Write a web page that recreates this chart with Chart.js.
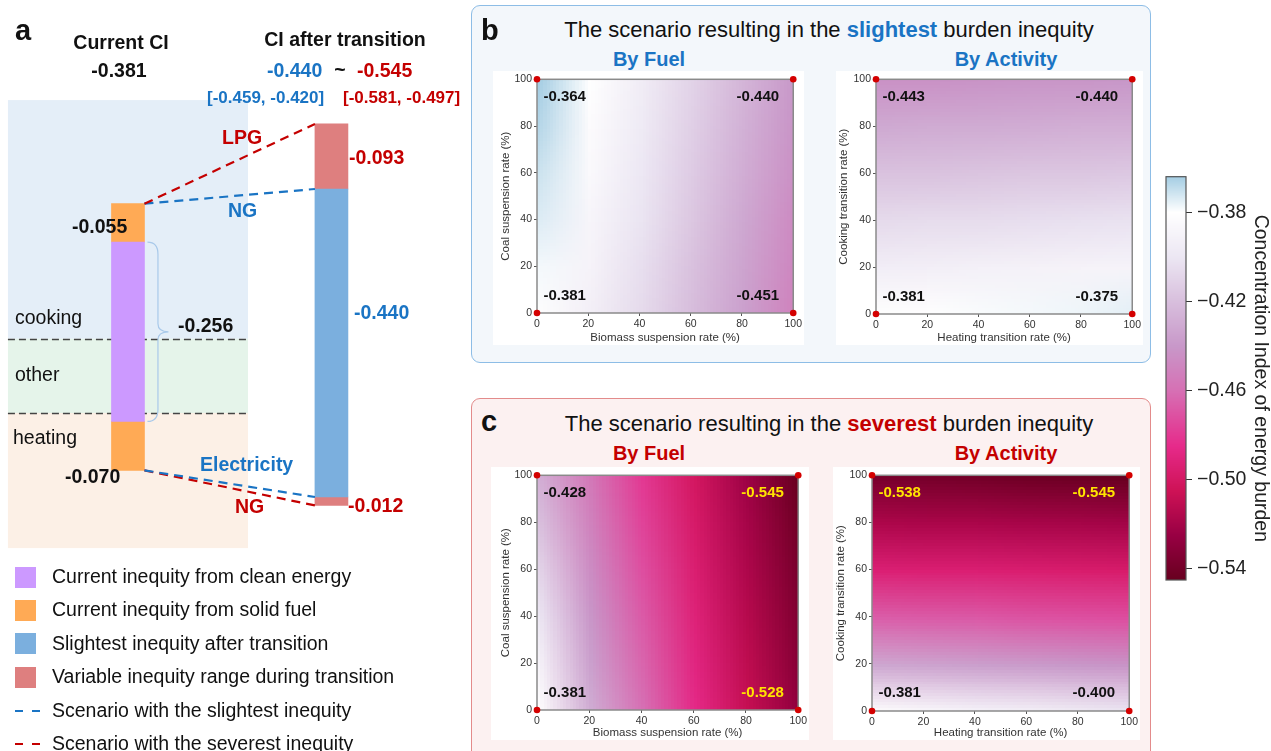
<!DOCTYPE html>
<html>
<head>
<meta charset="utf-8">
<script src="https://cdn.jsdelivr.net/npm/chart.js@4.4.0/dist/chart.umd.min.js"></script>
<style>
body{margin:0;width:1271px;height:751px;overflow:hidden;background:#fff;position:relative;font-family:"Liberation Sans",Arial,sans-serif;color:#111}
canvas{position:absolute}
.t{position:absolute;white-space:nowrap;transform:translateY(-50%);line-height:1}
.c{transform:translate(-50%,-50%)}
.box{position:absolute;border-radius:9px;box-sizing:border-box}
.sw{position:absolute;width:21px;height:21px}
.dash{position:absolute;height:2px;width:8px}
</style>
</head>
<body>
<div class="box" style="left:471px;top:5px;width:680px;height:358px;border:1.5px solid #8DBDE6;background:#F3F7FB"></div>
<div class="box" style="left:471px;top:398px;width:680px;height:370px;border:1.5px solid #E38B8B;background:#FCF1F1"></div>

<canvas id="panelA" width="470" height="560" style="left:0;top:0"></canvas>
<canvas id="hbFuel" width="311" height="274" style="left:493px;top:71px;background:#fff"></canvas>
<canvas id="hbAct" width="307" height="274" style="left:836px;top:71px;background:#fff"></canvas>
<canvas id="hcFuel" width="318" height="273" style="left:491px;top:467px;background:#fff"></canvas>
<canvas id="hcAct" width="307" height="273" style="left:833px;top:467px;background:#fff"></canvas>
<canvas id="cbar" width="116" height="440" style="left:1160px;top:160px"></canvas>

<div id="labels"></div>

<script>
// ---- data ----
// current CI split: solid fuel (cooking side), clean energy, solid fuel (heating side)
const currentParts = [-0.055, -0.256, -0.070];
// CI after transition: extra range on top (LPG), slightest (blue), extra at bottom (NG)
const afterParts = [-0.093, -0.440, -0.012];
const slightRange = [-0.459, -0.420];
const severeRange = [-0.581, -0.497];

// heatmap grids, rows from y=0 up to y=100, columns x=0..100
const gridTicks = [0, 20, 40, 60, 80, 100];
const fuelSlight = [
  [-0.381, -0.393, -0.406, -0.421, -0.436, -0.451],
  [-0.378, -0.390, -0.404, -0.419, -0.434, -0.449],
  [-0.374, -0.388, -0.401, -0.416, -0.432, -0.447],
  [-0.371, -0.385, -0.399, -0.414, -0.429, -0.444],
  [-0.367, -0.383, -0.397, -0.412, -0.427, -0.442],
  [-0.364, -0.380, -0.395, -0.410, -0.425, -0.440]
];
const actSlight = [
  [-0.381, -0.380, -0.379, -0.378, -0.377, -0.375],
  [-0.394, -0.393, -0.392, -0.391, -0.390, -0.389],
  [-0.406, -0.405, -0.405, -0.404, -0.403, -0.402],
  [-0.418, -0.418, -0.417, -0.416, -0.416, -0.415],
  [-0.431, -0.430, -0.430, -0.429, -0.428, -0.428],
  [-0.443, -0.443, -0.442, -0.441, -0.441, -0.440]
];
const fuelSevere = [
  [-0.381, -0.430, -0.460, -0.486, -0.508, -0.528],
  [-0.390, -0.436, -0.464, -0.489, -0.511, -0.532],
  [-0.400, -0.441, -0.468, -0.492, -0.514, -0.535],
  [-0.409, -0.446, -0.472, -0.495, -0.517, -0.538],
  [-0.419, -0.451, -0.476, -0.498, -0.520, -0.541],
  [-0.428, -0.456, -0.480, -0.501, -0.523, -0.545]
];
const actSevere = [
  [-0.381, -0.385, -0.389, -0.392, -0.396, -0.400],
  [-0.432, -0.434, -0.436, -0.438, -0.440, -0.442],
  [-0.466, -0.467, -0.468, -0.470, -0.471, -0.472],
  [-0.493, -0.494, -0.494, -0.495, -0.496, -0.497],
  [-0.517, -0.518, -0.518, -0.519, -0.520, -0.521],
  [-0.538, -0.539, -0.540, -0.542, -0.543, -0.545]
];
const cbarTicks = [-0.54, -0.50, -0.46, -0.42, -0.38];

// ---- styles ----
const FONT = '"Liberation Sans", Arial, sans-serif';
const BLUE = '#1A74C4', RED = '#C40000';
const cmapStops = [
  [-0.364, [164, 205, 227]],
  [-0.380, [255, 255, 255]],
  [-0.400, [236, 231, 243]],
  [-0.420, [216, 191, 221]],
  [-0.440, [200, 152, 201]],
  [-0.460, [214, 112, 180]],
  [-0.485, [230, 42, 138]],
  [-0.505, [206, 18, 86]],
  [-0.525, [152, 0, 67]],
  [-0.545, [103, 0, 31]]
];
function cmap(v) {
  if (v >= cmapStops[0][0]) return cmapStops[0][1];
  for (let i = 1; i < cmapStops.length; i++) {
    const [v1, c1] = cmapStops[i];
    if (v >= v1) {
      const [v0, c0] = cmapStops[i - 1];
      const f = (v - v0) / (v1 - v0);
      return c0.map((c, k) => Math.round(c + (c1[k] - c) * f));
    }
  }
  return cmapStops[cmapStops.length - 1][1];
}
const fmt = v => v.toFixed(3);

// ---- text labels ----
const labels = document.getElementById('labels');
function txt(s, x, y, css, center) {
  const d = document.createElement('div');
  d.className = 't' + (center ? ' c' : '');
  d.style.left = x + 'px';
  d.style.top = y + 'px';
  d.style.cssText += css;
  d.innerHTML = s;
  labels.appendChild(d);
}
const curTotal = currentParts.reduce((a, b) => a + b, 0);
const aftTotal = afterParts.reduce((a, b) => a + b, 0);
const B19 = 'font-size:19.5px;font-weight:bold;';
txt('a', 15, 30, 'font-size:29px;font-weight:bold;');
txt('Current CI', 121, 43, B19, true);
txt(fmt(curTotal), 119, 71, B19, true);
txt('CI after transition', 345, 40, B19, true);
txt(fmt(afterParts[1]), 267, 71, B19 + 'color:' + BLUE);
txt('~', 340, 70, B19, true);
txt(fmt(aftTotal), 357, 71, B19 + 'color:' + RED);
txt('[' + fmt(slightRange[0]) + ', ' + fmt(slightRange[1]) + ']', 207, 97, 'font-size:17px;font-weight:bold;color:' + BLUE);
txt('[' + fmt(severeRange[0]) + ', ' + fmt(severeRange[1]) + ']', 343, 97, 'font-size:17px;font-weight:bold;color:' + RED);
txt('LPG', 222, 138, B19 + 'color:' + RED);
txt(fmt(afterParts[0]), 349, 158, B19 + 'color:' + RED);
txt('NG', 228, 211, B19 + 'color:' + BLUE);
txt(fmt(currentParts[0]), 72, 227, B19);
txt('cooking', 15, 318, 'font-size:19.5px;');
txt(fmt(currentParts[1]), 178, 326, B19);
txt('other', 15, 375, 'font-size:19.5px;');
txt('heating', 13, 438, 'font-size:19.5px;');
txt(fmt(afterParts[1]), 354, 313, B19 + 'color:' + BLUE);
txt('Electricity', 200, 465, B19 + 'color:' + BLUE);
txt(fmt(currentParts[2]), 65, 477, B19);
txt('NG', 235, 507, B19 + 'color:' + RED);
txt(fmt(afterParts[2]), 348, 506, B19 + 'color:' + RED);

// legend of panel a
const legendRows = [
  ['box', '#CC99FF', 'Current inequity from clean energy'],
  ['box', '#FFAA55', 'Current inequity from solid fuel'],
  ['box', '#7BAFDE', 'Slightest inequity after transition'],
  ['box', '#DE7F7F', 'Variable inequity range during transition'],
  ['dash', BLUE, 'Scenario with the slightest inequity'],
  ['dash', RED, 'Scenario with the severest inequity']
];
legendRows.forEach((r, i) => {
  const y = 577 + i * 33.4;
  if (r[0] === 'box') {
    const s = document.createElement('div');
    s.className = 'sw';
    s.style.cssText = 'left:15px;top:' + (y - 10.5) + 'px;background:' + r[1];
    labels.appendChild(s);
  } else {
    [15, 32].forEach(x => {
      const s = document.createElement('div');
      s.className = 'dash';
      s.style.cssText = 'left:' + x + 'px;top:' + (y - 1) + 'px;background:' + r[1];
      labels.appendChild(s);
    });
  }
  txt(r[2], 52, y, 'font-size:19.5px;');
});

// panel titles
txt('b', 481, 30, 'font-size:29px;font-weight:bold;');
txt('The scenario resulting in the <b style="color:' + BLUE + '">slightest</b> burden inequity', 829, 30, 'font-size:22px;', true);
txt('By Fuel', 649, 59, 'font-size:20px;font-weight:bold;color:' + BLUE, true);
txt('By Activity', 1006, 59, 'font-size:20px;font-weight:bold;color:' + BLUE, true);
txt('c', 481, 421, 'font-size:29px;font-weight:bold;');
txt('The scenario resulting in the <b style="color:' + RED + '">severest</b> burden inequity', 829, 424, 'font-size:22px;', true);
txt('By Fuel', 649, 453, 'font-size:20px;font-weight:bold;color:' + RED, true);
txt('By Activity', 1006, 453, 'font-size:20px;font-weight:bold;color:' + RED, true);

// ---- panel a chart ----
const leftTop = -0.114;   // vertical offset of the current bar
const halfW = 0.081;      // half bar width in x units
const cum = [leftTop];
currentParts.forEach(p => cum.push(cum[cum.length - 1] + p));
const acum = [0];
afterParts.forEach(p => acum.push(acum[acum.length - 1] + p));

const bandsPlugin = {
  id: 'bands',
  beforeDatasetsDraw(chart) {
    const { ctx, scales: { x, y } } = chart;
    const bands = [[0.034, -0.307, '#E4EEF8'], [-0.307, -0.413, '#E5F4EA'], [-0.413, -0.606, '#FCF0E6']];
    const x0 = x.getPixelForValue(-0.59), x1 = x.getPixelForValue(0.59);
    ctx.save();
    bands.forEach(b => {
      const y0 = y.getPixelForValue(b[0]), y1 = y.getPixelForValue(b[1]);
      ctx.fillStyle = b[2];
      ctx.fillRect(x0, y0, x1 - x0, y1 - y0);
    });
    ctx.strokeStyle = '#444';
    ctx.lineWidth = 1.3;
    ctx.setLineDash([7, 4]);
    [-0.307, -0.413].forEach(v => {
      const py = Math.round(y.getPixelForValue(v)) + 0.5;
      ctx.beginPath(); ctx.moveTo(x0, py); ctx.lineTo(x1, py); ctx.stroke();
    });
    ctx.restore();
  },
  afterDatasetsDraw(chart) {
    // brace next to the clean-energy segment
    const { ctx, scales: { x, y } } = chart;
    const bx = x.getPixelForValue(halfW) + 3, w = 21;
    const y0 = y.getPixelForValue(cum[1]), y1 = y.getPixelForValue(cum[2]);
    const ym = (y0 + y1) / 2, xm = bx + w / 2;
    ctx.save();
    ctx.strokeStyle = '#A9C9EA';
    ctx.lineWidth = 1.2;
    ctx.beginPath();
    ctx.moveTo(bx, y0);
    ctx.quadraticCurveTo(xm, y0, xm, y0 + 12);
    ctx.lineTo(xm, ym - 8);
    ctx.quadraticCurveTo(xm, ym, bx + w, ym);
    ctx.quadraticCurveTo(xm, ym, xm, ym + 8);
    ctx.lineTo(xm, y1 - 12);
    ctx.quadraticCurveTo(xm, y1, bx, y1);
    ctx.stroke();
    ctx.restore();
  }
};

function dashLine(color, yFrom, yTo) {
  return {
    type: 'line',
    data: [{ x: halfW, y: yFrom }, { x: 1 - halfW, y: yTo }],
    borderColor: color, borderWidth: 2.2, borderDash: [9, 6],
    pointRadius: 0, order: -1
  };
}

new Chart(document.getElementById('panelA'), {
  type: 'bar',
  data: {
    datasets: [
      { data: [{ x: 0, y: [cum[1], cum[2]] }], backgroundColor: '#CC99FF', barThickness: 33, grouped: false },
      { data: [{ x: 0, y: [cum[0], cum[1]] }, { x: 0, y: [cum[2], cum[3]] }], backgroundColor: '#FFAA55', barThickness: 33, grouped: false },
      { data: [{ x: 1, y: [acum[1], acum[2]] }], backgroundColor: '#7BAFDE', barThickness: 33, grouped: false },
      { data: [{ x: 1, y: [acum[0], acum[1]] }, { x: 1, y: [acum[2], acum[3]] }], backgroundColor: '#DE7F7F', barThickness: 33, grouped: false },
      dashLine(RED, cum[0], acum[0]),
      dashLine(BLUE, cum[0], acum[1]),
      dashLine(BLUE, cum[3], acum[2]),
      dashLine(RED, cum[3], acum[3])
    ]
  },
  options: {
    responsive: false, animation: false,
    layout: { padding: 0 },
    plugins: { legend: { display: false }, tooltip: { enabled: false } },
    scales: {
      x: { type: 'linear', display: false, offset: false, min: -0.629, max: 1.681 },
      y: { display: false, min: -0.623, max: 0.177 }
    }
  },
  plugins: [bandsPlugin]
});

// ---- heatmaps ----
function heatmap(id, grid, xTitle, yTitle, geo) {
  const n = gridTicks.length;
  const off = document.createElement('canvas');
  off.width = n; off.height = n;
  const octx = off.getContext('2d');
  const img = octx.createImageData(n, n);
  for (let r = 0; r < n; r++) {
    for (let c = 0; c < n; c++) {
      const col = cmap(grid[r][c]);
      const i = ((n - 1 - r) * n + c) * 4;
      img.data[i] = col[0]; img.data[i + 1] = col[1]; img.data[i + 2] = col[2]; img.data[i + 3] = 255;
    }
  }
  octx.putImageData(img, 0, 0);

  const heat = {
    id: 'heat',
    beforeDatasetsDraw(chart) {
      const { ctx, scales: { x, y } } = chart;
      const x0 = x.getPixelForValue(gridTicks[0]), x1 = x.getPixelForValue(gridTicks[n - 1]);
      const y0 = y.getPixelForValue(gridTicks[n - 1]), y1 = y.getPixelForValue(gridTicks[0]);
      ctx.save();
      ctx.imageSmoothingEnabled = true;
      ctx.drawImage(off, 0.5, 0.5, n - 1, n - 1, x0, y0, x1 - x0, y1 - y0);
      ctx.strokeStyle = '#8A8A8A';
      ctx.lineWidth = 1.5;
      ctx.strokeRect(x0, y0, x1 - x0, y1 - y0);
      // corner values
      ctx.font = 'bold 15px ' + FONT;
      ctx.textBaseline = 'middle';
      const corners = [[0, 0, 2.5, 7.5, 'left'], [0, n - 1, 94.5, 7.5, 'right'], [n - 1, 0, 2.5, 92.5, 'left'], [n - 1, n - 1, 94.5, 92.5, 'right']];
      corners.forEach(([r, c, px, py, al]) => {
        const v = grid[r][c];
        ctx.fillStyle = v < -0.5 ? '#FFE400' : '#111';
        ctx.textAlign = al;
        ctx.fillText(fmt(v), x.getPixelForValue(px), y.getPixelForValue(py));
      });
      ctx.restore();
    }
  };

  const axis = (title, isX) => ({
    type: 'linear', min: gridTicks[0], max: gridTicks[n - 1],
    afterBuildTicks: s => { s.ticks = gridTicks.map(v => ({ value: v })); },
    ticks: { font: { size: 10.5, family: FONT }, color: '#333', padding: 2, maxRotation: 0 },
    grid: { drawOnChartArea: false, tickLength: 3, color: '#555' },
    border: { display: false },
    title: { display: true, text: title, font: { size: 11.5, family: FONT }, color: '#333', padding: isX ? { top: 2, bottom: 0 } : { top: geo.tpad, bottom: 3 } },
    afterFit: s => { if (isX) s.height = geo.bottom; else s.width = geo.left; }
  });

  new Chart(document.getElementById(id), {
    type: 'scatter',
    data: {
      datasets: [{
        data: [
          { x: gridTicks[0], y: gridTicks[0] }, { x: gridTicks[n - 1], y: gridTicks[0] },
          { x: gridTicks[0], y: gridTicks[n - 1] }, { x: gridTicks[n - 1], y: gridTicks[n - 1] }
        ],
        pointRadius: 3.3, pointBackgroundColor: '#D40000', pointBorderWidth: 0, clip: false
      }]
    },
    options: {
      responsive: false, animation: false,
      layout: { padding: { top: geo.top, right: geo.right, left: 0, bottom: 0 } },
      plugins: { legend: { display: false }, tooltip: { enabled: false } },
      scales: { x: axis(xTitle, true), y: axis(yTitle, false) }
    },
    plugins: [heat]
  });
}

heatmap('hbFuel', fuelSlight, 'Biomass suspension rate (%)', 'Coal suspension rate (%)', { left: 44, right: 10, top: 8, bottom: 32, tpad: 6 });
heatmap('hbAct', actSlight, 'Heating transition rate (%)', 'Cooking transition rate (%)', { left: 40, right: 8, top: 7, bottom: 31, tpad: 1 });
heatmap('hcFuel', fuelSevere, 'Biomass suspension rate (%)', 'Coal suspension rate (%)', { left: 46, right: 10, top: 5, bottom: 30, tpad: 8 });
heatmap('hcAct', actSevere, 'Heating transition rate (%)', 'Cooking transition rate (%)', { left: 39, right: 7, top: 6, bottom: 29, tpad: 1 });

// ---- colorbar ----
const allVals = [fuelSlight, actSlight, fuelSevere, actSevere].flat(2);
const cbMin = Math.min(...allVals), cbMax = Math.max(...allVals);
new Chart(document.getElementById('cbar'), {
  type: 'scatter',
  data: { datasets: [] },
  options: {
    responsive: false, animation: false,
    layout: { padding: { top: 14, left: 6, right: 0, bottom: 20 } },
    plugins: { legend: { display: false }, tooltip: { enabled: false } },
    scales: {
      x: { display: false },
      y: {
        position: 'right', min: cbMin, max: cbMax,
        afterBuildTicks: s => { s.ticks = cbarTicks.map(v => ({ value: v })); },
        ticks: { font: { size: 19.5, family: FONT }, color: '#222', padding: 5, callback: v => '\u2212' + Math.abs(v).toFixed(2) },
        grid: { drawOnChartArea: false, tickLength: 6, color: '#333' },
        border: { display: false },
        title: { display: true, text: 'Concentration Index of energy burden', font: { size: 19.5, family: FONT }, color: '#222', padding: { top: 4, bottom: 2 } },
        afterFit: s => { s.width = 90; }
      }
    }
  },
  plugins: [{
    id: 'grad',
    beforeDatasetsDraw(chart) {
      const { ctx, chartArea: a, scales: { y } } = chart;
      ctx.save();
      for (let py = Math.floor(a.top); py < a.bottom; py++) {
        const c = cmap(y.getValueForPixel(py + 0.5));
        ctx.fillStyle = 'rgb(' + c.join(',') + ')';
        ctx.fillRect(a.left, py, a.right - a.left, 1);
      }
      ctx.strokeStyle = '#555';
      ctx.lineWidth = 1.2;
      ctx.strokeRect(a.left, a.top, a.right - a.left, a.bottom - a.top);
      ctx.restore();
    }
  }]
});
</script>
</body>
</html>
